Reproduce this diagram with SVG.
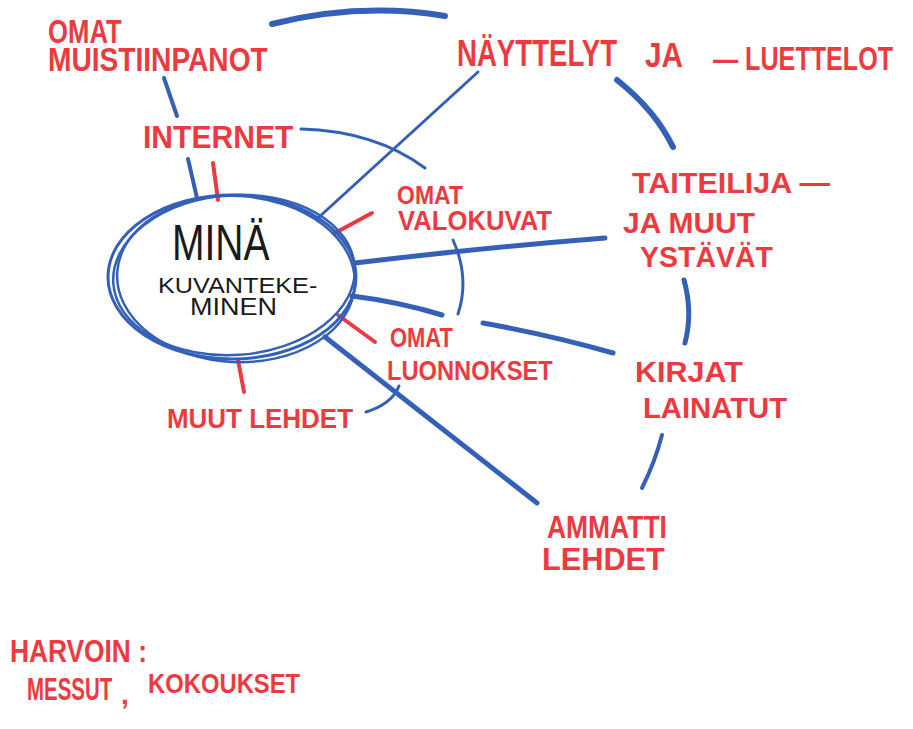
<svg xmlns="http://www.w3.org/2000/svg" width="913" height="729" viewBox="0 0 913 729">
<style>
.r{fill:#ec3b40;font-family:"Liberation Sans",Arial,sans-serif;font-weight:bold}
.k{fill:#1a1a1a;font-family:"Liberation Sans",Arial,sans-serif}
.b{fill:none;stroke:#3461b7;stroke-linecap:round}
.t{fill:none;stroke:#ec3b40;stroke-width:4;stroke-linecap:round}
</style>
<rect width="913" height="729" fill="#ffffff"/>
<g id="connectors">
<path class="b" stroke-width="6" d="M272,24 Q360,2 445,16"/>
<path class="b" stroke-width="4" d="M164,78 L177,116"/>
<path class="b" stroke-width="4" d="M188,159 L197,198"/>
<path class="b" stroke-width="3" d="M301,129 Q375,131 425,168"/>
<path class="b" stroke-width="3" d="M318,218 L478,72"/>
<path class="b" stroke-width="6" d="M617,80 Q655,110 673,147"/>
<path class="b" stroke-width="5" d="M355,263 Q480,248 605,238"/>
<path class="b" stroke-width="3" d="M453,240 Q470,278 458,314"/>
<path class="b" stroke-width="5" d="M352,296 Q400,302 442,315"/>
<path class="b" stroke-width="5" d="M483,323 Q550,335 613,353"/>
<path class="b" stroke-width="5" d="M325,337 L537,503"/>
<path class="b" stroke-width="3" d="M366,412 Q392,404 399,386"/>
<path class="b" stroke-width="5" d="M684,280 Q693,312 685,343"/>
<path class="b" stroke-width="4" d="M662,435 Q655,462 642,488"/>
<line class="t" x1="213" y1="163" x2="218" y2="200"/>
<line class="t" x1="335" y1="233" x2="372" y2="213"/>
<line class="t" x1="338" y1="315" x2="375" y2="342"/>
<line class="t" x1="238" y1="360" x2="244" y2="392"/>
</g>
<g id="mina">
<ellipse class="b" stroke-width="3" cx="232" cy="277" rx="124" ry="82"/>
<ellipse class="b" stroke-width="2.5" cx="234" cy="275" rx="121" ry="80" transform="rotate(-4 234 275)"/>
<ellipse class="b" stroke-width="2.5" cx="236" cy="279" rx="119" ry="83" transform="rotate(3 236 279)"/>
<text class="k" font-size="50" transform="translate(172,260) scale(0.78,1)" textLength="125" lengthAdjust="spacingAndGlyphs">MINÄ</text>
<text class="k" font-size="22" transform="translate(158,293) scale(1.13,1)" textLength="141" lengthAdjust="spacingAndGlyphs">KUVANTEKE-</text>
<text class="k" font-size="24" transform="translate(190,315) scale(1.13,1)" textLength="77" lengthAdjust="spacingAndGlyphs">MINEN</text>
</g>
<g id="muistiinpanot">
<text class="r" font-size="33" transform="translate(48,43) scale(0.76,1)" textLength="97" lengthAdjust="spacingAndGlyphs">OMAT</text>
<text class="r" font-size="33" transform="translate(48,71) scale(0.845,1)" textLength="260" lengthAdjust="spacingAndGlyphs">MUISTIINPANOT</text>
</g>
<g id="internet">
<text class="r" font-size="32" transform="translate(143,148) scale(0.94,1)" textLength="160" lengthAdjust="spacingAndGlyphs">INTERNET</text>
</g>
<g id="nayttelyt">
<text class="r" font-size="37" transform="translate(457,66) scale(0.734,1)" textLength="218" lengthAdjust="spacingAndGlyphs">NÄYTTELYT</text>
<text class="r" font-size="35" transform="translate(645,67) scale(0.85,1)" textLength="44.7" lengthAdjust="spacingAndGlyphs">JA</text>
<text class="r" font-size="33" transform="translate(713,70) scale(0.76,1)" textLength="237" lengthAdjust="spacingAndGlyphs">— LUETTELOT</text>
</g>
<g id="taiteilija">
<text class="r" font-size="30" transform="translate(632,193)" textLength="198" lengthAdjust="spacingAndGlyphs">TAITEILIJA —</text>
<text class="r" font-size="30" transform="translate(623,233)" textLength="132" lengthAdjust="spacingAndGlyphs">JA MUUT</text>
<text class="r" font-size="30" transform="translate(640,267) scale(0.95,1)" textLength="140" lengthAdjust="spacingAndGlyphs">YSTÄVÄT</text>
</g>
<g id="valokuvat">
<text class="r" font-size="26" transform="translate(397,204) scale(0.86,1)" textLength="76.7" lengthAdjust="spacingAndGlyphs">OMAT</text>
<text class="r" font-size="28" transform="translate(398,230) scale(0.885,1)" textLength="174" lengthAdjust="spacingAndGlyphs">VALOKUVAT</text>
</g>
<g id="luonnokset">
<text class="r" font-size="27" transform="translate(390,347) scale(0.79,1)" textLength="79.7" lengthAdjust="spacingAndGlyphs">OMAT</text>
<text class="r" font-size="28" transform="translate(387,380) scale(0.85,1)" textLength="195" lengthAdjust="spacingAndGlyphs">LUONNOKSET</text>
</g>
<g id="muut-lehdet">
<text class="r" font-size="28" transform="translate(167,428) scale(0.93,1)" textLength="200" lengthAdjust="spacingAndGlyphs">MUUT LEHDET</text>
</g>
<g id="kirjat">
<text class="r" font-size="30" transform="translate(635,382)" textLength="108" lengthAdjust="spacingAndGlyphs">KIRJAT</text>
<text class="r" font-size="30" transform="translate(643,418) scale(0.96,1)" textLength="150" lengthAdjust="spacingAndGlyphs">LAINATUT</text>
</g>
<g id="ammatti">
<text class="r" font-size="32" transform="translate(547,538) scale(0.81,1)" textLength="148" lengthAdjust="spacingAndGlyphs">AMMATTI</text>
<text class="r" font-size="32" transform="translate(542,570) scale(0.96,1)" textLength="128" lengthAdjust="spacingAndGlyphs">LEHDET</text>
</g>
<g id="harvoin">
<text class="r" font-size="32" transform="translate(10,662) scale(0.82,1)" textLength="167" lengthAdjust="spacingAndGlyphs">HARVOIN :</text>
<text class="r" font-size="31" transform="translate(27,700) scale(0.66,1)" textLength="129" lengthAdjust="spacingAndGlyphs">MESSUT</text>
<text class="r" font-size="28" transform="translate(121,704)">,</text>
<text class="r" font-size="28" transform="translate(148,693) scale(0.85,1)" textLength="179" lengthAdjust="spacingAndGlyphs">KOKOUKSET</text>
</g>
</svg>
